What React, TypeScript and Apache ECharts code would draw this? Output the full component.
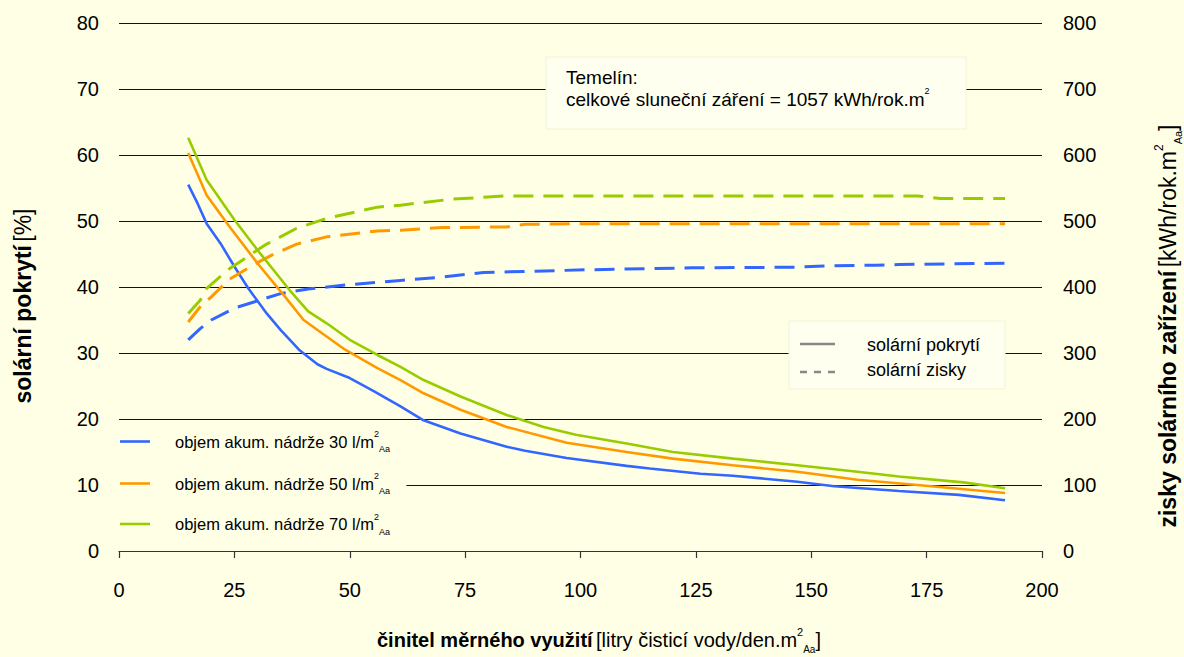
import React, { useEffect, useRef } from "react";
import * as echarts from "echarts";

// ---- data ----
const xTicks = [0, 25, 50, 75, 100, 125, 150, 175, 200];

const covX30 = [15, 17, 19, 22, 25, 28, 32, 35, 39, 43, 45, 50, 55, 61, 66, 74, 84, 88, 97, 110, 115, 126, 133, 147, 155, 169, 182, 192];
const cov30 = [55.5, 52.7, 49.6, 46.6, 43.1, 39.8, 36.0, 33.5, 30.5, 28.3, 27.6, 26.2, 24.3, 21.9, 19.8, 17.8, 15.8, 15.2, 14.1, 12.9, 12.5, 11.7, 11.4, 10.5, 9.8, 9.1, 8.5, 7.7];

const covX50 = [15, 19, 24, 30, 36, 40, 44, 49, 56, 61, 66, 74, 84, 97, 110, 120, 133, 147, 160, 173, 192];
const cov50 = [60.3, 53.9, 49.1, 43.6, 38.5, 35.0, 33.0, 30.5, 27.7, 25.9, 23.9, 21.4, 18.8, 16.4, 15.0, 14.0, 13.0, 12.0, 10.8, 10.0, 8.8];

const covX70 = [15, 19, 25, 30, 37, 41, 45, 50, 56, 61, 66, 74, 84, 92, 99, 110, 120, 133, 147, 160, 169, 183, 192];
const cov70 = [62.6, 56.2, 50.2, 45.6, 39.5, 36.3, 34.5, 32.0, 29.7, 27.9, 25.9, 23.4, 20.6, 18.8, 17.6, 16.3, 15.0, 14.0, 13.0, 12.0, 11.3, 10.4, 9.5];

const gainX30 = [15, 17.6, 20, 25, 30, 35, 41, 49, 61, 70, 79, 101, 124, 147, 153, 164, 169, 192];
const gain30 = [320, 337, 350, 368, 379, 390, 397, 403, 410, 415, 422, 426, 429, 430, 432, 433, 434, 436];

const gainX50 = [15, 17.6, 20, 24, 30, 33, 38.5, 45, 56, 61, 70, 84, 88, 100, 192];
const gain50 = [347, 370, 385, 412, 437, 448, 465, 476, 485, 486, 490, 491, 495, 496, 496];

const gainX70 = [15, 17.6, 19, 24, 30, 32, 38.5, 45, 56, 61, 72, 84, 173, 178, 192];
const gain70 = [360, 380, 398, 428, 456, 465, 489, 504, 521, 524, 533, 538, 538, 534, 534];

const volumes = ["30", "50", "70"];
const colors = ["#3366FF", "#FF9900", "#99CC00"];

const zip = (xs: number[], ys: number[]) => xs.map((x, i) => [x, ys[i]]);

const FONT = "'Liberation Sans', Arial, sans-serif";

export default function App() {
  const ref = useRef<HTMLDivElement>(null);

  useEffect(() => {
    if (!ref.current) return;
    const chart = echarts.init(ref.current, null, { renderer: "svg" });

    const covs = [zip(covX30, cov30), zip(covX50, cov50), zip(covX70, cov70)];
    const gains = [zip(gainX30, gain30), zip(gainX50, gain50), zip(gainX70, gain70)];

    const series: any[] = [];
    for (let i = 0; i < 3; i++) {
      series.push({
        name: `pokrytí ${volumes[i]}`,
        type: "line",
        xAxisIndex: 0,
        yAxisIndex: 0,
        data: covs[i],
        showSymbol: false,
        lineStyle: { color: colors[i], width: 2.6 },
        itemStyle: { color: colors[i] },
        z: 3,
      });
      series.push({
        name: `zisky ${volumes[i]}`,
        type: "line",
        xAxisIndex: 0,
        yAxisIndex: 1,
        data: gains[i],
        showSymbol: false,
        lineStyle: { color: colors[i], width: 3, type: [20, 10] },
        itemStyle: { color: colors[i] },
        z: 3,
      });
    }

    const supRich = {
      n: { fontSize: 16.5, fontFamily: FONT, fill: "#000", lineHeight: 24 },
      sup: { fontSize: 9, fontFamily: FONT, fill: "#000", verticalAlign: "top" },
      sub: { fontSize: 9, fontFamily: FONT, fill: "#000", verticalAlign: "bottom" },
    };

    const legendRows = [441.5, 483.5, 524];
    const graphic: any[] = [
      // legend 1 background
      {
        type: "rect",
        z: 10,
        shape: { x: 108, y: 424, width: 298, height: 117 },
        style: { fill: "#FFFFE6", stroke: "#FFFFE6" },
      },
      // legend 2 box
      {
        type: "rect",
        z: 10,
        shape: { x: 789, y: 321, width: 216, height: 68 },
        style: { fill: "#FFFFEF", stroke: "#F2F2D8", lineWidth: 1 },
      },
      // annotation box
      {
        type: "rect",
        z: 10,
        shape: { x: 546, y: 57, width: 420, height: 72 },
        style: { fill: "#FFFFEF", stroke: "#F2F2D8", lineWidth: 1 },
      },
      {
        type: "text",
        z: 11,
        x: 566,
        y: 77,
        style: {
          text: "Temelín:",
          fontSize: 19,
          fontFamily: FONT,
          fill: "#000",
          align: "left",
          verticalAlign: "middle",
          textAlign: "left",
          textVerticalAlign: "middle",
        },
      },
      {
        type: "text",
        z: 11,
        x: 566,
        y: 99,
        style: {
          text: "{n|celkové sluneční záření = 1057 kWh/rok.m}{sup|2}",
          rich: {
            n: { fontSize: 19, fontFamily: FONT, fill: "#000", lineHeight: 26 },
            sup: { fontSize: 9, fontFamily: FONT, fill: "#000", verticalAlign: "top" },
          },
          align: "left",
          verticalAlign: "middle",
          textAlign: "left",
          textVerticalAlign: "middle",
        },
      },
      // legend 2 entries
      {
        type: "line",
        z: 11,
        shape: { x1: 800, y1: 344, x2: 835, y2: 344 },
        style: { stroke: "#888888", lineWidth: 2.6 },
      },
      {
        type: "line",
        z: 11,
        shape: { x1: 800, y1: 372, x2: 835, y2: 372 },
        style: { stroke: "#888888", lineWidth: 2.6, lineDash: [7, 7] },
      },
      {
        type: "text",
        z: 11,
        x: 867,
        y: 345,
        style: {
          text: "solární pokrytí",
          fontSize: 18,
          fontFamily: FONT,
          fill: "#000",
          align: "left",
          verticalAlign: "middle",
          textAlign: "left",
          textVerticalAlign: "middle",
        },
      },
      {
        type: "text",
        z: 11,
        x: 867,
        y: 370,
        style: {
          text: "solární zisky",
          fontSize: 18,
          fontFamily: FONT,
          fill: "#000",
          align: "left",
          verticalAlign: "middle",
          textAlign: "left",
          textVerticalAlign: "middle",
        },
      },
      // axis titles
      {
        type: "text",
        z: 11,
        x: 23,
        y: 306,
        rotation: Math.PI / 2,
        style: {
          text: "{b|solární pokrytí} {n|[%]}",
          rich: {
            b: { fontSize: 23, fontWeight: "bold", fontFamily: FONT, fill: "#000" },
            n: { fontSize: 23, fontFamily: FONT, fill: "#000" },
          },
          align: "center",
          verticalAlign: "middle",
          textAlign: "center",
          textVerticalAlign: "middle",
        },
      },
      {
        type: "text",
        z: 11,
        x: 1168,
        y: 326,
        rotation: Math.PI / 2,
        style: {
          text: "{b|zisky solárního zařízení} {n|[kWh/rok.m}{sup|2}{sub|Aa}{n|]}",
          rich: {
            b: { fontSize: 23, fontWeight: "bold", fontFamily: FONT, fill: "#000", lineHeight: 30 },
            n: { fontSize: 23, fontFamily: FONT, fill: "#000", lineHeight: 30 },
            sup: { fontSize: 12, fontFamily: FONT, fill: "#000", verticalAlign: "top" },
            sub: { fontSize: 11, fontFamily: FONT, fill: "#000", verticalAlign: "bottom" },
          },
          align: "center",
          verticalAlign: "middle",
          textAlign: "center",
          textVerticalAlign: "middle",
        },
      },
      {
        type: "text",
        z: 11,
        x: 599,
        y: 640,
        style: {
          text: "{b|činitel měrného využití} {n|[litry čisticí vody/den.m}{sup|2}{sub|Aa}{n|]}",
          rich: {
            b: { fontSize: 20, fontWeight: "bold", fontFamily: FONT, fill: "#000", lineHeight: 28 },
            n: { fontSize: 20, fontFamily: FONT, fill: "#000", lineHeight: 28 },
            sup: { fontSize: 11, fontFamily: FONT, fill: "#000", verticalAlign: "top" },
            sub: { fontSize: 10, fontFamily: FONT, fill: "#000", verticalAlign: "bottom" },
          },
          align: "center",
          verticalAlign: "middle",
          textAlign: "center",
          textVerticalAlign: "middle",
        },
      },
    ];

    for (let i = 0; i < 3; i++) {
      graphic.push({
        type: "line",
        z: 11,
        shape: { x1: 120, y1: legendRows[i], x2: 150, y2: legendRows[i] },
        style: { stroke: colors[i], lineWidth: 2.6 },
      });
      graphic.push({
        type: "text",
        z: 11,
        x: 175,
        y: legendRows[i],
        style: {
          text: `{n|objem akum. nádrže ${volumes[i]} l/m}{sup|2}{sub|Aa}`,
          rich: supRich,
          align: "left",
          verticalAlign: "middle",
          textAlign: "left",
          textVerticalAlign: "middle",
        },
      });
    }

    chart.setOption({
      animation: false,
      backgroundColor: "#FFFFE6",
      textStyle: { fontFamily: FONT },
      grid: { left: 119, right: 142, top: 23, bottom: 106, containLabel: false },
      xAxis: {
        type: "value",
        min: 0,
        max: 200,
        interval: 25,
        axisLine: { show: true, lineStyle: { color: "#333", width: 1.2 } },
        axisTick: { show: true, length: 7, lineStyle: { color: "#333", width: 1.2 } },
        splitLine: { show: false },
        axisLabel: {
          fontSize: 20,
          color: "#000",
          margin: 29,
          fontFamily: FONT,
          formatter: (v: number) => (xTicks.includes(v) ? String(v) : ""),
        },
      },
      yAxis: [
        {
          type: "value",
          min: 0,
          max: 80,
          interval: 10,
          axisLine: { show: false },
          axisTick: { show: false },
          splitLine: { show: true, lineStyle: { color: "#111", width: 1.2 } },
          axisLabel: { fontSize: 20, color: "#000", margin: 20, fontFamily: FONT },
        },
        {
          type: "value",
          min: 0,
          max: 800,
          interval: 100,
          position: "right",
          axisLine: { show: false },
          axisTick: { show: false },
          splitLine: { show: false },
          axisLabel: { fontSize: 20, color: "#000", margin: 21, fontFamily: FONT },
        },
      ],
      series,
      graphic,
    });

    return () => chart.dispose();
  }, []);

  return (
    <div
      ref={ref}
      style={{ position: "fixed", left: 0, top: 0, width: 1184, height: 657 }}
    />
  );
}
